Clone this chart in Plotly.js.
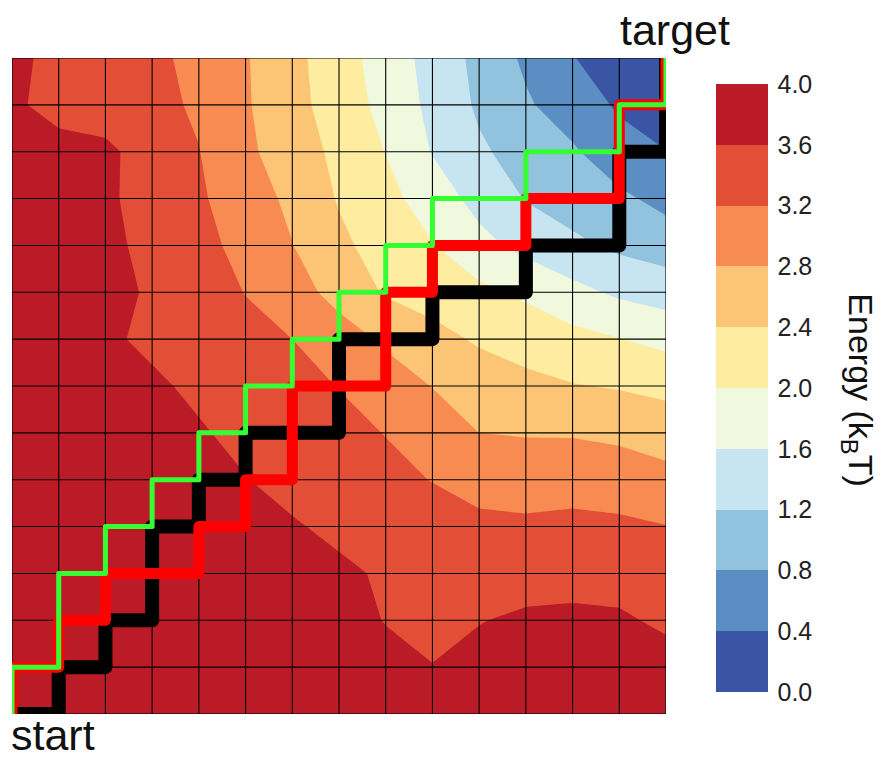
<!DOCTYPE html>
<html>
<head>
<meta charset="utf-8">
<script src="https://cdn.plot.ly/plotly-3.0.1.min.js"></script>
<style>
  html, body { margin: 0; padding: 0; background: #ffffff; }
  #chart { width: 881px; height: 757px; }
  #chart .scatterlayer path.js-line { stroke-linejoin: round !important; }
</style>
</head>
<body>
<div id="chart"></div>
<script>
// grid node coordinates (columns i, rows j)
const xNodes = [0, 1, 2, 3, 4, 5, 6, 7, 8, 9, 10, 11, 12, 13, 14];
const yNodes = [0, 1, 2, 3, 4, 5, 6, 7, 8, 9, 10, 11, 12, 13, 14];

// energy (kBT) at each node, one row per y (bottom row first)
const energyRow0  = [3.98, 3.97, 3.96, 3.95, 3.94, 3.92, 3.89, 3.85, 3.80, 3.76, 3.80, 3.83, 3.85, 3.84, 3.82];
const energyRow1  = [3.97, 3.96, 3.95, 3.94, 3.92, 3.88, 3.84, 3.78, 3.68, 3.62, 3.68, 3.72, 3.75, 3.74, 3.71];
const energyRow2  = [3.96, 3.95, 3.94, 3.92, 3.88, 3.84, 3.78, 3.70, 3.59, 3.40, 3.59, 3.64, 3.66, 3.64, 3.55];
const energyRow3  = [3.95, 3.94, 3.92, 3.88, 3.83, 3.77, 3.72, 3.66, 3.56, 3.45, 3.46, 3.50, 3.50, 3.49, 3.40];
const energyRow4  = [3.94, 3.92, 3.88, 3.82, 3.74, 3.67, 3.63, 3.53, 3.44, 3.34, 3.25, 3.25, 3.30, 3.27, 3.21];
const energyRow5  = [3.92, 3.88, 3.82, 3.75, 3.66, 3.61, 3.50, 3.40, 3.29, 3.19, 3.12, 3.07, 3.04, 3.01, 2.92];
const energyRow6  = [3.90, 3.85, 3.78, 3.70, 3.63, 3.52, 3.41, 3.30, 3.19, 3.00, 2.80, 2.77, 2.77, 2.72, 2.62];
const energyRow7  = [3.88, 3.80, 3.72, 3.65, 3.54, 3.42, 3.31, 3.19, 2.98, 2.79, 2.62, 2.50, 2.42, 2.37, 2.30];
const energyRow8  = [3.88, 3.78, 3.65, 3.54, 3.43, 3.31, 3.20, 2.97, 2.74, 2.53, 2.35, 2.24, 2.12, 2.01, 1.89];
const energyRow9  = [3.85, 3.80, 3.73, 3.55, 3.38, 3.19, 2.96, 2.67, 2.36, 2.23, 2.09, 1.93, 1.72, 1.53, 1.42];
const energyRow10 = [3.82, 3.78, 3.69, 3.50, 3.31, 3.09, 2.81, 2.48, 2.24, 2.02, 1.72, 1.48, 1.28, 1.12, 1.01];
const energyRow11 = [3.78, 3.74, 3.66, 3.46, 3.25, 3.00, 2.71, 2.37, 2.12, 1.81, 1.47, 1.18, 1.03, 0.88, 0.68];
const energyRow12 = [3.72, 3.68, 3.68, 3.43, 3.21, 2.88, 2.59, 2.31, 1.99, 1.58, 1.26, 1.04, 0.85, 0.55, 0.41];
const energyRow13 = [3.64, 3.52, 3.41, 3.30, 3.15, 2.84, 2.53, 2.21, 1.88, 1.50, 1.14, 0.85, 0.60, 0.35, 0.12];
const energyRow14 = [3.66, 3.53, 3.40, 3.28, 3.10, 2.83, 2.51, 2.17, 1.82, 1.46, 1.09, 0.73, 0.42, 0.15, 0.02];

// three paths from start to target (node coordinates)
const blackPathX = [0, 1, 1, 2, 2, 3, 3, 4, 4, 5, 5, 7, 7, 9, 9, 11, 11, 13, 13, 14, 14];
const blackPathY = [0, 0, 1, 1, 2, 2, 4, 4, 5, 5, 6, 6, 8, 8, 9, 9, 10, 10, 12, 12, 14];
const redPathX   = [0, 0, 1, 1, 2, 2, 4, 4, 5, 5, 6, 6, 8, 8, 9, 9, 11, 11, 13, 13, 14, 14];
const redPathY   = [0, 1, 1, 2, 2, 3, 3, 4, 4, 5, 5, 7, 7, 9, 9, 10, 10, 11, 11, 13, 13, 14];
const greenPathX = [0, 0, 1, 1, 2, 2, 3, 3, 4, 4, 5, 5, 6, 6, 7, 7, 8, 8, 9, 9, 11, 11, 13, 13, 14, 14];
const greenPathY = [0, 1, 1, 3, 3, 4, 4, 5, 5, 6, 6, 7, 7, 8, 8, 9, 9, 10, 10, 11, 11, 12, 12, 13, 13, 14];

// colour bar
const levelColors = ['#3b55a5', '#5b8fc3', '#91c2de', '#c6e5f0', '#f0f8dd',
                     '#feeda1', '#fcc575', '#f88b52', '#e34e36', '#bb1a27'];
const colorbarTickVals = [0.0, 0.4, 0.8, 1.2, 1.6, 2.0, 2.4, 2.8, 3.2, 3.6, 4.0];
const colorbarTickText = ['0.0', '0.4', '0.8', '1.2', '1.6', '2.0', '2.4', '2.8', '3.2', '3.6', '4.0'];

const energy = [energyRow0, energyRow1, energyRow2, energyRow3, energyRow4, energyRow5,
                energyRow6, energyRow7, energyRow8, energyRow9, energyRow10, energyRow11,
                energyRow12, energyRow13, energyRow14];

// stepped colorscale, one flat step per band
const nBands = levelColors.length;
const colorscale = [];
levelColors.forEach(function (c, k) {
  colorscale.push([k / nBands, c]);
  colorscale.push([(k + 1) / nBands, c]);
});

// grid lines through every node
const gridX = [], gridY = [];
const xLo = xNodes[0], xHi = xNodes[xNodes.length - 1];
const yLo = yNodes[0], yHi = yNodes[yNodes.length - 1];
xNodes.forEach(function (v) { gridX.push(v, v, null); gridY.push(yLo, yHi, null); });
yNodes.forEach(function (v) { gridX.push(xLo, xHi, null); gridY.push(v, v, null); });

const FONT = '"Liberation Sans", Arial, sans-serif';

const traces = [
  {
    type: 'contour',
    x: xNodes, y: yNodes, z: energy,
    zmin: 0, zmax: 4, zauto: false,
    autocontour: false,
    contours: { start: 0, end: 4, size: 0.4, coloring: 'fill', showlines: false },
    line: { width: 0, smoothing: 0 },
    colorscale: colorscale,
    colorbar: {
      x: 1.0765, xanchor: 'left', xpad: 0,
      y: 0.497, yanchor: 'middle', ypad: 0,
      len: 0.927, lenmode: 'fraction',
      thickness: 52, thicknessmode: 'pixels',
      outlinewidth: 0,
      tickmode: 'array', tickvals: colorbarTickVals, ticktext: colorbarTickText,
      ticks: 'outside', ticklen: 5, tickcolor: 'rgba(0,0,0,0)',
      tickfont: { family: FONT, size: 25, color: '#222' }
    },
    hoverinfo: 'skip'
  },
  {
    type: 'scatter', mode: 'lines', x: gridX, y: gridY,
    line: { color: '#000000', width: 1.1 }, hoverinfo: 'skip', showlegend: false
  },
  {
    type: 'scatter', mode: 'lines', x: blackPathX, y: blackPathY,
    line: { color: '#000000', width: 14 }, hoverinfo: 'skip', showlegend: false
  },
  {
    type: 'scatter', mode: 'lines', x: redPathX, y: redPathY,
    line: { color: '#ff0000', width: 11 }, hoverinfo: 'skip', showlegend: false
  },
  {
    type: 'scatter', mode: 'lines', x: greenPathX, y: greenPathY,
    line: { color: '#33ff33', width: 5 }, hoverinfo: 'skip', showlegend: false
  }
];

const layout = {
  width: 881, height: 757,
  margin: { l: 12, r: 215, t: 58, b: 43, pad: 0 },
  paper_bgcolor: '#ffffff', plot_bgcolor: '#ffffff',
  showlegend: false,
  font: { family: FONT, color: '#111' },
  xaxis: { range: [xLo, xHi], showgrid: false, zeroline: false, showticklabels: false,
           ticks: '', showline: false, fixedrange: true },
  yaxis: { range: [yLo, yHi], showgrid: false, zeroline: false, showticklabels: false,
           ticks: '', showline: false, fixedrange: true },
  annotations: [
    { text: 'target', xref: 'paper', yref: 'paper', x: 1.014, y: 1.043,
      xanchor: 'center', yanchor: 'middle', showarrow: false,
      font: { family: FONT, size: 43, color: '#111' } },
    { text: 'start', xref: 'paper', yref: 'paper', x: -0.003, y: -0.032,
      xanchor: 'left', yanchor: 'middle', showarrow: false, borderpad: 0,
      font: { family: FONT, size: 43, color: '#111' } },
    { text: 'Energy (k<sub>B</sub>T)', xref: 'paper', yref: 'paper', x: 1.293, y: 0.494,
      xanchor: 'center', yanchor: 'middle', textangle: 90, showarrow: false, borderpad: 0,
      font: { family: FONT, size: 34, color: '#111' } }
  ]
};

Plotly.newPlot('chart', traces, layout, { displayModeBar: false, staticPlot: true });
</script>
</body>
</html>
